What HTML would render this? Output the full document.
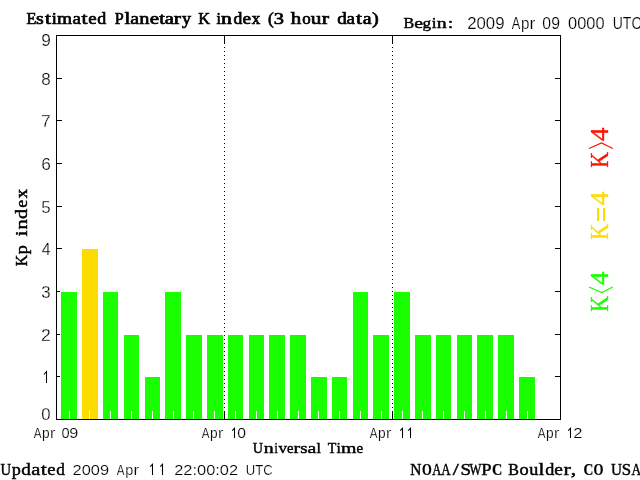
<!DOCTYPE html><html><head><meta charset="utf-8"><style>html,body{margin:0;padding:0;background:#fff;overflow:hidden}svg{display:block;will-change:transform}</style></head><body>
<svg width="640" height="480" viewBox="0 0 640 480">
<rect x="0" y="0" width="640" height="480" fill="#fff"/>
<g shape-rendering="crispEdges">
<rect x="56" y="419" width="6" height="1" fill="#000"/>
<rect x="555" y="419" width="6" height="1" fill="#000"/>
<rect x="56" y="376" width="6" height="1" fill="#000"/>
<rect x="555" y="376" width="6" height="1" fill="#000"/>
<rect x="56" y="334" width="6" height="1" fill="#000"/>
<rect x="555" y="334" width="6" height="1" fill="#000"/>
<rect x="56" y="291" width="6" height="1" fill="#000"/>
<rect x="555" y="291" width="6" height="1" fill="#000"/>
<rect x="56" y="248" width="6" height="1" fill="#000"/>
<rect x="555" y="248" width="6" height="1" fill="#000"/>
<rect x="56" y="206" width="6" height="1" fill="#000"/>
<rect x="555" y="206" width="6" height="1" fill="#000"/>
<rect x="56" y="163" width="6" height="1" fill="#000"/>
<rect x="555" y="163" width="6" height="1" fill="#000"/>
<rect x="56" y="120" width="6" height="1" fill="#000"/>
<rect x="555" y="120" width="6" height="1" fill="#000"/>
<rect x="56" y="78" width="6" height="1" fill="#000"/>
<rect x="555" y="78" width="6" height="1" fill="#000"/>
<rect x="56" y="35" width="6" height="1" fill="#000"/>
<rect x="555" y="35" width="6" height="1" fill="#000"/>
<rect x="224" y="35" width="1" height="9" fill="#000"/>
<rect x="224" y="411" width="1" height="9" fill="#000"/>
<rect x="224" y="47" width="1" height="1" fill="#000"/>
<rect x="224" y="51" width="1" height="1" fill="#000"/>
<rect x="224" y="55" width="1" height="1" fill="#000"/>
<rect x="224" y="59" width="1" height="1" fill="#000"/>
<rect x="224" y="63" width="1" height="1" fill="#000"/>
<rect x="224" y="67" width="1" height="1" fill="#000"/>
<rect x="224" y="71" width="1" height="1" fill="#000"/>
<rect x="224" y="75" width="1" height="1" fill="#000"/>
<rect x="224" y="79" width="1" height="1" fill="#000"/>
<rect x="224" y="83" width="1" height="1" fill="#000"/>
<rect x="224" y="87" width="1" height="1" fill="#000"/>
<rect x="224" y="91" width="1" height="1" fill="#000"/>
<rect x="224" y="95" width="1" height="1" fill="#000"/>
<rect x="224" y="99" width="1" height="1" fill="#000"/>
<rect x="224" y="103" width="1" height="1" fill="#000"/>
<rect x="224" y="107" width="1" height="1" fill="#000"/>
<rect x="224" y="111" width="1" height="1" fill="#000"/>
<rect x="224" y="115" width="1" height="1" fill="#000"/>
<rect x="224" y="119" width="1" height="1" fill="#000"/>
<rect x="224" y="123" width="1" height="1" fill="#000"/>
<rect x="224" y="127" width="1" height="1" fill="#000"/>
<rect x="224" y="131" width="1" height="1" fill="#000"/>
<rect x="224" y="135" width="1" height="1" fill="#000"/>
<rect x="224" y="139" width="1" height="1" fill="#000"/>
<rect x="224" y="143" width="1" height="1" fill="#000"/>
<rect x="224" y="147" width="1" height="1" fill="#000"/>
<rect x="224" y="151" width="1" height="1" fill="#000"/>
<rect x="224" y="155" width="1" height="1" fill="#000"/>
<rect x="224" y="159" width="1" height="1" fill="#000"/>
<rect x="224" y="163" width="1" height="1" fill="#000"/>
<rect x="224" y="167" width="1" height="1" fill="#000"/>
<rect x="224" y="171" width="1" height="1" fill="#000"/>
<rect x="224" y="175" width="1" height="1" fill="#000"/>
<rect x="224" y="179" width="1" height="1" fill="#000"/>
<rect x="224" y="183" width="1" height="1" fill="#000"/>
<rect x="224" y="187" width="1" height="1" fill="#000"/>
<rect x="224" y="191" width="1" height="1" fill="#000"/>
<rect x="224" y="195" width="1" height="1" fill="#000"/>
<rect x="224" y="199" width="1" height="1" fill="#000"/>
<rect x="224" y="203" width="1" height="1" fill="#000"/>
<rect x="224" y="207" width="1" height="1" fill="#000"/>
<rect x="224" y="211" width="1" height="1" fill="#000"/>
<rect x="224" y="215" width="1" height="1" fill="#000"/>
<rect x="224" y="219" width="1" height="1" fill="#000"/>
<rect x="224" y="223" width="1" height="1" fill="#000"/>
<rect x="224" y="227" width="1" height="1" fill="#000"/>
<rect x="224" y="231" width="1" height="1" fill="#000"/>
<rect x="224" y="235" width="1" height="1" fill="#000"/>
<rect x="224" y="239" width="1" height="1" fill="#000"/>
<rect x="224" y="243" width="1" height="1" fill="#000"/>
<rect x="224" y="247" width="1" height="1" fill="#000"/>
<rect x="224" y="251" width="1" height="1" fill="#000"/>
<rect x="224" y="255" width="1" height="1" fill="#000"/>
<rect x="224" y="259" width="1" height="1" fill="#000"/>
<rect x="224" y="263" width="1" height="1" fill="#000"/>
<rect x="224" y="267" width="1" height="1" fill="#000"/>
<rect x="224" y="271" width="1" height="1" fill="#000"/>
<rect x="224" y="275" width="1" height="1" fill="#000"/>
<rect x="224" y="279" width="1" height="1" fill="#000"/>
<rect x="224" y="283" width="1" height="1" fill="#000"/>
<rect x="224" y="287" width="1" height="1" fill="#000"/>
<rect x="224" y="291" width="1" height="1" fill="#000"/>
<rect x="224" y="295" width="1" height="1" fill="#000"/>
<rect x="224" y="299" width="1" height="1" fill="#000"/>
<rect x="224" y="303" width="1" height="1" fill="#000"/>
<rect x="224" y="307" width="1" height="1" fill="#000"/>
<rect x="224" y="311" width="1" height="1" fill="#000"/>
<rect x="224" y="315" width="1" height="1" fill="#000"/>
<rect x="224" y="319" width="1" height="1" fill="#000"/>
<rect x="224" y="323" width="1" height="1" fill="#000"/>
<rect x="224" y="327" width="1" height="1" fill="#000"/>
<rect x="224" y="331" width="1" height="1" fill="#000"/>
<rect x="224" y="335" width="1" height="1" fill="#000"/>
<rect x="224" y="339" width="1" height="1" fill="#000"/>
<rect x="224" y="343" width="1" height="1" fill="#000"/>
<rect x="224" y="347" width="1" height="1" fill="#000"/>
<rect x="224" y="351" width="1" height="1" fill="#000"/>
<rect x="224" y="355" width="1" height="1" fill="#000"/>
<rect x="224" y="359" width="1" height="1" fill="#000"/>
<rect x="224" y="363" width="1" height="1" fill="#000"/>
<rect x="224" y="367" width="1" height="1" fill="#000"/>
<rect x="224" y="371" width="1" height="1" fill="#000"/>
<rect x="224" y="375" width="1" height="1" fill="#000"/>
<rect x="224" y="379" width="1" height="1" fill="#000"/>
<rect x="224" y="383" width="1" height="1" fill="#000"/>
<rect x="224" y="387" width="1" height="1" fill="#000"/>
<rect x="224" y="391" width="1" height="1" fill="#000"/>
<rect x="224" y="395" width="1" height="1" fill="#000"/>
<rect x="224" y="399" width="1" height="1" fill="#000"/>
<rect x="224" y="403" width="1" height="1" fill="#000"/>
<rect x="224" y="407" width="1" height="1" fill="#000"/>
<rect x="392" y="35" width="1" height="9" fill="#000"/>
<rect x="392" y="411" width="1" height="9" fill="#000"/>
<rect x="392" y="47" width="1" height="1" fill="#000"/>
<rect x="392" y="51" width="1" height="1" fill="#000"/>
<rect x="392" y="55" width="1" height="1" fill="#000"/>
<rect x="392" y="59" width="1" height="1" fill="#000"/>
<rect x="392" y="63" width="1" height="1" fill="#000"/>
<rect x="392" y="67" width="1" height="1" fill="#000"/>
<rect x="392" y="71" width="1" height="1" fill="#000"/>
<rect x="392" y="75" width="1" height="1" fill="#000"/>
<rect x="392" y="79" width="1" height="1" fill="#000"/>
<rect x="392" y="83" width="1" height="1" fill="#000"/>
<rect x="392" y="87" width="1" height="1" fill="#000"/>
<rect x="392" y="91" width="1" height="1" fill="#000"/>
<rect x="392" y="95" width="1" height="1" fill="#000"/>
<rect x="392" y="99" width="1" height="1" fill="#000"/>
<rect x="392" y="103" width="1" height="1" fill="#000"/>
<rect x="392" y="107" width="1" height="1" fill="#000"/>
<rect x="392" y="111" width="1" height="1" fill="#000"/>
<rect x="392" y="115" width="1" height="1" fill="#000"/>
<rect x="392" y="119" width="1" height="1" fill="#000"/>
<rect x="392" y="123" width="1" height="1" fill="#000"/>
<rect x="392" y="127" width="1" height="1" fill="#000"/>
<rect x="392" y="131" width="1" height="1" fill="#000"/>
<rect x="392" y="135" width="1" height="1" fill="#000"/>
<rect x="392" y="139" width="1" height="1" fill="#000"/>
<rect x="392" y="143" width="1" height="1" fill="#000"/>
<rect x="392" y="147" width="1" height="1" fill="#000"/>
<rect x="392" y="151" width="1" height="1" fill="#000"/>
<rect x="392" y="155" width="1" height="1" fill="#000"/>
<rect x="392" y="159" width="1" height="1" fill="#000"/>
<rect x="392" y="163" width="1" height="1" fill="#000"/>
<rect x="392" y="167" width="1" height="1" fill="#000"/>
<rect x="392" y="171" width="1" height="1" fill="#000"/>
<rect x="392" y="175" width="1" height="1" fill="#000"/>
<rect x="392" y="179" width="1" height="1" fill="#000"/>
<rect x="392" y="183" width="1" height="1" fill="#000"/>
<rect x="392" y="187" width="1" height="1" fill="#000"/>
<rect x="392" y="191" width="1" height="1" fill="#000"/>
<rect x="392" y="195" width="1" height="1" fill="#000"/>
<rect x="392" y="199" width="1" height="1" fill="#000"/>
<rect x="392" y="203" width="1" height="1" fill="#000"/>
<rect x="392" y="207" width="1" height="1" fill="#000"/>
<rect x="392" y="211" width="1" height="1" fill="#000"/>
<rect x="392" y="215" width="1" height="1" fill="#000"/>
<rect x="392" y="219" width="1" height="1" fill="#000"/>
<rect x="392" y="223" width="1" height="1" fill="#000"/>
<rect x="392" y="227" width="1" height="1" fill="#000"/>
<rect x="392" y="231" width="1" height="1" fill="#000"/>
<rect x="392" y="235" width="1" height="1" fill="#000"/>
<rect x="392" y="239" width="1" height="1" fill="#000"/>
<rect x="392" y="243" width="1" height="1" fill="#000"/>
<rect x="392" y="247" width="1" height="1" fill="#000"/>
<rect x="392" y="251" width="1" height="1" fill="#000"/>
<rect x="392" y="255" width="1" height="1" fill="#000"/>
<rect x="392" y="259" width="1" height="1" fill="#000"/>
<rect x="392" y="263" width="1" height="1" fill="#000"/>
<rect x="392" y="267" width="1" height="1" fill="#000"/>
<rect x="392" y="271" width="1" height="1" fill="#000"/>
<rect x="392" y="275" width="1" height="1" fill="#000"/>
<rect x="392" y="279" width="1" height="1" fill="#000"/>
<rect x="392" y="283" width="1" height="1" fill="#000"/>
<rect x="392" y="287" width="1" height="1" fill="#000"/>
<rect x="392" y="291" width="1" height="1" fill="#000"/>
<rect x="392" y="295" width="1" height="1" fill="#000"/>
<rect x="392" y="299" width="1" height="1" fill="#000"/>
<rect x="392" y="303" width="1" height="1" fill="#000"/>
<rect x="392" y="307" width="1" height="1" fill="#000"/>
<rect x="392" y="311" width="1" height="1" fill="#000"/>
<rect x="392" y="315" width="1" height="1" fill="#000"/>
<rect x="392" y="319" width="1" height="1" fill="#000"/>
<rect x="392" y="323" width="1" height="1" fill="#000"/>
<rect x="392" y="327" width="1" height="1" fill="#000"/>
<rect x="392" y="331" width="1" height="1" fill="#000"/>
<rect x="392" y="335" width="1" height="1" fill="#000"/>
<rect x="392" y="339" width="1" height="1" fill="#000"/>
<rect x="392" y="343" width="1" height="1" fill="#000"/>
<rect x="392" y="347" width="1" height="1" fill="#000"/>
<rect x="392" y="351" width="1" height="1" fill="#000"/>
<rect x="392" y="355" width="1" height="1" fill="#000"/>
<rect x="392" y="359" width="1" height="1" fill="#000"/>
<rect x="392" y="363" width="1" height="1" fill="#000"/>
<rect x="392" y="367" width="1" height="1" fill="#000"/>
<rect x="392" y="371" width="1" height="1" fill="#000"/>
<rect x="392" y="375" width="1" height="1" fill="#000"/>
<rect x="392" y="379" width="1" height="1" fill="#000"/>
<rect x="392" y="383" width="1" height="1" fill="#000"/>
<rect x="392" y="387" width="1" height="1" fill="#000"/>
<rect x="392" y="391" width="1" height="1" fill="#000"/>
<rect x="392" y="395" width="1" height="1" fill="#000"/>
<rect x="392" y="399" width="1" height="1" fill="#000"/>
<rect x="392" y="403" width="1" height="1" fill="#000"/>
<rect x="392" y="407" width="1" height="1" fill="#000"/>
<rect x="60" y="291" width="18" height="128" fill="#fff"/>
<rect x="61" y="292" width="16" height="127" fill="#1aff00"/>
<rect x="69" y="411" width="1" height="8" fill="#fff"/>
<rect x="81" y="248" width="18" height="171" fill="#fff"/>
<rect x="82" y="249" width="16" height="170" fill="#ffdc00"/>
<rect x="89" y="411" width="1" height="8" fill="#fff"/>
<rect x="102" y="291" width="17" height="128" fill="#fff"/>
<rect x="103" y="292" width="15" height="127" fill="#1aff00"/>
<rect x="110" y="411" width="1" height="8" fill="#fff"/>
<rect x="123" y="334" width="17" height="85" fill="#fff"/>
<rect x="124" y="335" width="15" height="84" fill="#1aff00"/>
<rect x="131" y="411" width="1" height="8" fill="#fff"/>
<rect x="144" y="376" width="17" height="43" fill="#fff"/>
<rect x="145" y="377" width="15" height="42" fill="#1aff00"/>
<rect x="152" y="411" width="1" height="8" fill="#fff"/>
<rect x="164" y="291" width="18" height="128" fill="#fff"/>
<rect x="165" y="292" width="16" height="127" fill="#1aff00"/>
<rect x="173" y="411" width="1" height="8" fill="#fff"/>
<rect x="185" y="334" width="18" height="85" fill="#fff"/>
<rect x="186" y="335" width="16" height="84" fill="#1aff00"/>
<rect x="193" y="411" width="1" height="8" fill="#fff"/>
<rect x="206" y="334" width="18" height="85" fill="#fff"/>
<rect x="207" y="335" width="16" height="84" fill="#1aff00"/>
<rect x="214" y="411" width="1" height="8" fill="#fff"/>
<rect x="227" y="334" width="17" height="85" fill="#fff"/>
<rect x="228" y="335" width="15" height="84" fill="#1aff00"/>
<rect x="235" y="411" width="1" height="8" fill="#fff"/>
<rect x="248" y="334" width="17" height="85" fill="#fff"/>
<rect x="249" y="335" width="15" height="84" fill="#1aff00"/>
<rect x="256" y="411" width="1" height="8" fill="#fff"/>
<rect x="268" y="334" width="18" height="85" fill="#fff"/>
<rect x="269" y="335" width="16" height="84" fill="#1aff00"/>
<rect x="277" y="411" width="1" height="8" fill="#fff"/>
<rect x="289" y="334" width="18" height="85" fill="#fff"/>
<rect x="290" y="335" width="16" height="84" fill="#1aff00"/>
<rect x="298" y="411" width="1" height="8" fill="#fff"/>
<rect x="310" y="376" width="18" height="43" fill="#fff"/>
<rect x="311" y="377" width="16" height="42" fill="#1aff00"/>
<rect x="318" y="411" width="1" height="8" fill="#fff"/>
<rect x="331" y="376" width="17" height="43" fill="#fff"/>
<rect x="332" y="377" width="15" height="42" fill="#1aff00"/>
<rect x="339" y="411" width="1" height="8" fill="#fff"/>
<rect x="352" y="291" width="17" height="128" fill="#fff"/>
<rect x="353" y="292" width="15" height="127" fill="#1aff00"/>
<rect x="360" y="411" width="1" height="8" fill="#fff"/>
<rect x="372" y="334" width="18" height="85" fill="#fff"/>
<rect x="373" y="335" width="16" height="84" fill="#1aff00"/>
<rect x="381" y="411" width="1" height="8" fill="#fff"/>
<rect x="393" y="291" width="18" height="128" fill="#fff"/>
<rect x="394" y="292" width="16" height="127" fill="#1aff00"/>
<rect x="402" y="411" width="1" height="8" fill="#fff"/>
<rect x="414" y="334" width="18" height="85" fill="#fff"/>
<rect x="415" y="335" width="16" height="84" fill="#1aff00"/>
<rect x="422" y="411" width="1" height="8" fill="#fff"/>
<rect x="435" y="334" width="17" height="85" fill="#fff"/>
<rect x="436" y="335" width="15" height="84" fill="#1aff00"/>
<rect x="443" y="411" width="1" height="8" fill="#fff"/>
<rect x="456" y="334" width="17" height="85" fill="#fff"/>
<rect x="457" y="335" width="15" height="84" fill="#1aff00"/>
<rect x="464" y="411" width="1" height="8" fill="#fff"/>
<rect x="476" y="334" width="18" height="85" fill="#fff"/>
<rect x="477" y="335" width="16" height="84" fill="#1aff00"/>
<rect x="485" y="411" width="1" height="8" fill="#fff"/>
<rect x="497" y="334" width="18" height="85" fill="#fff"/>
<rect x="498" y="335" width="16" height="84" fill="#1aff00"/>
<rect x="506" y="411" width="1" height="8" fill="#fff"/>
<rect x="518" y="376" width="18" height="43" fill="#fff"/>
<rect x="519" y="377" width="16" height="42" fill="#1aff00"/>
<rect x="527" y="411" width="1" height="8" fill="#fff"/>
<rect x="56" y="35" width="505" height="1" fill="#000"/>
<rect x="56" y="419" width="505" height="1" fill="#000"/>
<rect x="56" y="35" width="1" height="385" fill="#000"/>
<rect x="560" y="35" width="1" height="385" fill="#000"/>
</g>
<text transform="translate(26.51,24.00) scale(0.9662,1)" font-family="Liberation Serif" font-weight="normal" font-size="16.794" letter-spacing="0.000" fill="#000" stroke="#000" stroke-width="0.65">E</text>
<text transform="translate(36.01,24.00) scale(1.1814,1)" font-family="Liberation Serif" font-weight="normal" font-size="16.794" letter-spacing="0.000" fill="#000" stroke="#000" stroke-width="0.65">s</text>
<text transform="translate(45.03,24.00) scale(1.2816,1)" font-family="Liberation Serif" font-weight="normal" font-size="16.794" letter-spacing="0.000" fill="#000" stroke="#000" stroke-width="0.65">t</text>
<text transform="translate(51.73,24.00) scale(1.0917,1)" font-family="Liberation Serif" font-weight="normal" font-size="16.794" letter-spacing="0.000" fill="#000" stroke="#000" stroke-width="0.65">i</text>
<text transform="translate(57.11,24.00) scale(1.1548,1)" font-family="Liberation Serif" font-weight="normal" font-size="16.794" letter-spacing="0.000" fill="#000" stroke="#000" stroke-width="0.65">m</text>
<text transform="translate(72.54,24.00) scale(1.1306,1)" font-family="Liberation Serif" font-weight="normal" font-size="16.794" letter-spacing="0.000" fill="#000" stroke="#000" stroke-width="0.65">a</text>
<text transform="translate(81.52,24.00) scale(1.3000,1)" font-family="Liberation Serif" font-weight="normal" font-size="16.794" letter-spacing="0.000" fill="#000" stroke="#000" stroke-width="0.65">t</text>
<text transform="translate(88.34,24.00) scale(1.1265,1)" font-family="Liberation Serif" font-weight="normal" font-size="16.794" letter-spacing="0.000" fill="#000" stroke="#000" stroke-width="0.65">e</text>
<text transform="translate(97.37,24.00) scale(1.0659,1)" font-family="Liberation Serif" font-weight="normal" font-size="16.794" letter-spacing="0.000" fill="#000" stroke="#000" stroke-width="0.65">d</text>
<text transform="translate(114.72,24.00) scale(0.9576,1)" font-family="Liberation Serif" font-weight="normal" font-size="16.794" letter-spacing="0.000" fill="#000" stroke="#000" stroke-width="0.65">P</text>
<text transform="translate(124.58,24.00) scale(1.2536,1)" font-family="Liberation Serif" font-weight="normal" font-size="16.794" letter-spacing="0.000" fill="#000" stroke="#000" stroke-width="0.65">l</text>
<text transform="translate(130.20,24.00) scale(1.1834,1)" font-family="Liberation Serif" font-weight="normal" font-size="16.794" letter-spacing="0.000" fill="#000" stroke="#000" stroke-width="0.65">a</text>
<text transform="translate(139.24,24.00) scale(1.2102,1)" font-family="Liberation Serif" font-weight="normal" font-size="16.794" letter-spacing="0.000" fill="#000" stroke="#000" stroke-width="0.65">n</text>
<text transform="translate(149.76,24.00) scale(1.2553,1)" font-family="Liberation Serif" font-weight="normal" font-size="16.794" letter-spacing="0.000" fill="#000" stroke="#000" stroke-width="0.65">e</text>
<text transform="translate(159.20,24.00) scale(1.2136,1)" font-family="Liberation Serif" font-weight="normal" font-size="16.794" letter-spacing="0.000" fill="#000" stroke="#000" stroke-width="0.65">t</text>
<text transform="translate(164.68,24.00) scale(1.2211,1)" font-family="Liberation Serif" font-weight="normal" font-size="16.794" letter-spacing="0.000" fill="#000" stroke="#000" stroke-width="0.65">a</text>
<text transform="translate(173.78,24.00) scale(1.3000,1)" font-family="Liberation Serif" font-weight="normal" font-size="16.794" letter-spacing="0.000" fill="#000" stroke="#000" stroke-width="0.65">r</text>
<text transform="translate(182.02,24.00) scale(1.0798,1)" font-family="Liberation Serif" font-weight="normal" font-size="16.794" letter-spacing="0.000" fill="#000" stroke="#000" stroke-width="0.65">y</text>
<text transform="translate(198.31,24.00) scale(0.9772,1)" font-family="Liberation Serif" font-weight="normal" font-size="16.794" letter-spacing="0.000" fill="#000" stroke="#000" stroke-width="0.65">K</text>
<text transform="translate(216.58,24.00) scale(0.9428,1)" font-family="Liberation Serif" font-weight="normal" font-size="16.794" letter-spacing="0.000" fill="#000" stroke="#000" stroke-width="0.65">i</text>
<text transform="translate(220.91,24.00) scale(1.3000,1)" font-family="Liberation Serif" font-weight="normal" font-size="16.794" letter-spacing="0.000" fill="#000" stroke="#000" stroke-width="0.65">n</text>
<text transform="translate(233.38,24.00) scale(1.0527,1)" font-family="Liberation Serif" font-weight="normal" font-size="16.794" letter-spacing="0.000" fill="#000" stroke="#000" stroke-width="0.65">d</text>
<text transform="translate(242.48,24.00) scale(1.1507,1)" font-family="Liberation Serif" font-weight="normal" font-size="16.794" letter-spacing="0.000" fill="#000" stroke="#000" stroke-width="0.65">e</text>
<text transform="translate(251.83,24.00) scale(1.0101,1)" font-family="Liberation Serif" font-weight="normal" font-size="16.794" letter-spacing="0.000" fill="#000" stroke="#000" stroke-width="0.65">x</text>
<text transform="translate(268.02,24.00) scale(1.0275,1)" font-family="Liberation Serif" font-weight="normal" font-size="16.794" letter-spacing="0.000" fill="#000" stroke="#000" stroke-width="0.65">(</text>
<text transform="translate(273.78,24.00) scale(1.2198,1)" font-family="Liberation Serif" font-weight="normal" font-size="16.794" letter-spacing="0.000" fill="#000" stroke="#000" stroke-width="0.65">3</text>
<text transform="translate(290.79,24.00) scale(1.2470,1)" font-family="Liberation Serif" font-weight="normal" font-size="16.794" letter-spacing="0.000" fill="#000" stroke="#000" stroke-width="0.65">h</text>
<text transform="translate(302.16,24.00) scale(1.0088,1)" font-family="Liberation Serif" font-weight="normal" font-size="16.794" letter-spacing="0.000" fill="#000" stroke="#000" stroke-width="0.65">o</text>
<text transform="translate(310.63,24.00) scale(1.2669,1)" font-family="Liberation Serif" font-weight="normal" font-size="16.794" letter-spacing="0.000" fill="#000" stroke="#000" stroke-width="0.65">u</text>
<text transform="translate(321.68,24.00) scale(1.3000,1)" font-family="Liberation Serif" font-weight="normal" font-size="16.794" letter-spacing="0.000" fill="#000" stroke="#000" stroke-width="0.65">r</text>
<text transform="translate(337.23,24.00) scale(1.1317,1)" font-family="Liberation Serif" font-weight="normal" font-size="16.794" letter-spacing="0.000" fill="#000" stroke="#000" stroke-width="0.65">d</text>
<text transform="translate(346.59,24.00) scale(1.1306,1)" font-family="Liberation Serif" font-weight="normal" font-size="16.794" letter-spacing="0.000" fill="#000" stroke="#000" stroke-width="0.65">a</text>
<text transform="translate(355.99,24.00) scale(1.3000,1)" font-family="Liberation Serif" font-weight="normal" font-size="16.794" letter-spacing="0.000" fill="#000" stroke="#000" stroke-width="0.65">t</text>
<text transform="translate(362.70,24.00) scale(1.1834,1)" font-family="Liberation Serif" font-weight="normal" font-size="16.794" letter-spacing="0.000" fill="#000" stroke="#000" stroke-width="0.65">a</text>
<text transform="translate(372.09,24.00) scale(1.2140,1)" font-family="Liberation Serif" font-weight="normal" font-size="16.794" letter-spacing="0.000" fill="#000" stroke="#000" stroke-width="0.65">)</text>
<text transform="translate(403.52,28.00) scale(1.0480,1)" font-family="Liberation Serif" font-weight="normal" font-size="15.267" letter-spacing="0.000" fill="#000" stroke="#000" stroke-width="0.45">B</text>
<text transform="translate(414.21,28.00) scale(1.2923,1)" font-family="Liberation Serif" font-weight="normal" font-size="15.267" letter-spacing="0.000" fill="#000" stroke="#000" stroke-width="0.45">e</text>
<text transform="translate(422.57,28.00) scale(1.1229,1)" font-family="Liberation Serif" font-weight="normal" font-size="15.267" letter-spacing="0.000" fill="#000" stroke="#000" stroke-width="0.45">g</text>
<text transform="translate(431.66,28.00) scale(1.1190,1)" font-family="Liberation Serif" font-weight="normal" font-size="15.267" letter-spacing="0.000" fill="#000" stroke="#000" stroke-width="0.45">i</text>
<text transform="translate(436.76,28.00) scale(1.3000,1)" font-family="Liberation Serif" font-weight="normal" font-size="15.267" letter-spacing="0.000" fill="#000" stroke="#000" stroke-width="0.45">n</text>
<text transform="translate(447.80,28.00) scale(1.3000,1)" font-family="Liberation Serif" font-weight="normal" font-size="15.267" letter-spacing="0.000" fill="#000" stroke="#000" stroke-width="0.45">:</text>
<text transform="translate(511.67,29.00) scale(0.8000,1)" font-family="Liberation Sans" font-weight="normal" font-size="16.000" letter-spacing="0.000" fill="#000" stroke="#fff" stroke-width="0.2">A</text>
<text transform="translate(520.88,29.00) scale(0.9431,1)" font-family="Liberation Sans" font-weight="normal" font-size="16.000" letter-spacing="0.000" fill="#000" stroke="#fff" stroke-width="0.2">p</text>
<text transform="translate(529.44,29.00) scale(1.0952,1)" font-family="Liberation Sans" font-weight="normal" font-size="16.000" letter-spacing="0.000" fill="#000" stroke="#fff" stroke-width="0.2">r</text>
<text transform="translate(467.16,29.00) scale(1.0655,1)" font-family="Liberation Sans" font-weight="normal" font-size="15.771" letter-spacing="0.000" fill="#000" stroke="#fff" stroke-width="0.2">2009</text>
<text transform="translate(542.37,29.00) scale(1.0022,1)" font-family="Liberation Sans" font-weight="normal" font-size="15.771" letter-spacing="0.000" fill="#000" stroke="#fff" stroke-width="0.2">09</text>
<text transform="translate(568.04,29.00) scale(1.0406,1)" font-family="Liberation Sans" font-weight="normal" font-size="15.771" letter-spacing="0.000" fill="#000" stroke="#fff" stroke-width="0.2">0000</text>
<text transform="translate(612.71,29.00) scale(0.8902,1)" font-family="Liberation Sans" font-weight="normal" font-size="15.771" letter-spacing="0.000" fill="#000" stroke="#fff" stroke-width="0.2">UTC</text>
<text transform="translate(41.33,420.00) scale(0.9738,1)" font-family="Liberation Sans" font-weight="normal" font-size="17.204" letter-spacing="0.000" fill="#000" stroke="#fff" stroke-width="0.25">0</text>
<polyline points="43.8,374.5 46.5,371.6 46.5,383" fill="none" stroke="#000" stroke-width="1.05"/>
<text transform="translate(41.12,341.00) scale(1.0220,1)" font-family="Liberation Sans" font-weight="normal" font-size="17.204" letter-spacing="0.000" fill="#000" stroke="#fff" stroke-width="0.25">2</text>
<text transform="translate(41.37,298.00) scale(0.9789,1)" font-family="Liberation Sans" font-weight="normal" font-size="17.204" letter-spacing="0.000" fill="#000" stroke="#fff" stroke-width="0.25">3</text>
<text transform="translate(41.64,255.00) scale(0.9208,1)" font-family="Liberation Sans" font-weight="normal" font-size="17.204" letter-spacing="0.000" fill="#000" stroke="#fff" stroke-width="0.25">4</text>
<text transform="translate(41.33,213.00) scale(0.9789,1)" font-family="Liberation Sans" font-weight="normal" font-size="17.204" letter-spacing="0.000" fill="#000" stroke="#fff" stroke-width="0.25">5</text>
<text transform="translate(41.14,170.00) scale(1.0054,1)" font-family="Liberation Sans" font-weight="normal" font-size="17.204" letter-spacing="0.000" fill="#000" stroke="#fff" stroke-width="0.25">6</text>
<text transform="translate(41.07,127.00) scale(1.0276,1)" font-family="Liberation Sans" font-weight="normal" font-size="17.204" letter-spacing="0.000" fill="#000" stroke="#fff" stroke-width="0.25">7</text>
<text transform="translate(41.28,85.00) scale(0.9894,1)" font-family="Liberation Sans" font-weight="normal" font-size="17.204" letter-spacing="0.000" fill="#000" stroke="#fff" stroke-width="0.25">8</text>
<text transform="translate(41.18,46.00) scale(1.0054,1)" font-family="Liberation Sans" font-weight="normal" font-size="17.204" letter-spacing="0.000" fill="#000" stroke="#fff" stroke-width="0.25">9</text>
<text transform="translate(33.72,438.00) scale(0.8000,1)" font-family="Liberation Sans" font-weight="normal" font-size="14.545" letter-spacing="0.000" fill="#000" stroke="#fff" stroke-width="0.2">A</text>
<text transform="translate(42.10,438.00) scale(0.9472,1)" font-family="Liberation Sans" font-weight="normal" font-size="14.545" letter-spacing="0.000" fill="#000" stroke="#fff" stroke-width="0.2">p</text>
<text transform="translate(49.92,438.00) scale(1.1000,1)" font-family="Liberation Sans" font-weight="normal" font-size="14.545" letter-spacing="0.000" fill="#000" stroke="#fff" stroke-width="0.2">r</text>
<text transform="translate(61.41,438.00) scale(1.0225,1)" font-family="Liberation Sans" font-weight="normal" font-size="14.337" letter-spacing="0.000" fill="#000" stroke="#fff" stroke-width="0.2">0</text>
<text transform="translate(69.23,438.00) scale(1.1311,1)" font-family="Liberation Sans" font-weight="normal" font-size="14.337" letter-spacing="0.000" fill="#000" stroke="#fff" stroke-width="0.2">9</text>
<text transform="translate(201.72,438.00) scale(0.8000,1)" font-family="Liberation Sans" font-weight="normal" font-size="14.545" letter-spacing="0.000" fill="#000" stroke="#fff" stroke-width="0.2">A</text>
<text transform="translate(210.10,438.00) scale(0.9472,1)" font-family="Liberation Sans" font-weight="normal" font-size="14.545" letter-spacing="0.000" fill="#000" stroke="#fff" stroke-width="0.2">p</text>
<text transform="translate(217.92,438.00) scale(1.1000,1)" font-family="Liberation Sans" font-weight="normal" font-size="14.545" letter-spacing="0.000" fill="#000" stroke="#fff" stroke-width="0.2">r</text>
<polyline points="232.20,430.60 234.50,428.30 234.50,438.00" fill="none" stroke="#000" stroke-width="1.05"/>
<text transform="translate(237.37,438.00) scale(1.0955,1)" font-family="Liberation Sans" font-weight="normal" font-size="14.337" letter-spacing="0.000" fill="#000" stroke="#fff" stroke-width="0.2">0</text>
<text transform="translate(369.72,438.00) scale(0.8000,1)" font-family="Liberation Sans" font-weight="normal" font-size="14.545" letter-spacing="0.000" fill="#000" stroke="#fff" stroke-width="0.2">A</text>
<text transform="translate(378.10,438.00) scale(0.9472,1)" font-family="Liberation Sans" font-weight="normal" font-size="14.545" letter-spacing="0.000" fill="#000" stroke="#fff" stroke-width="0.2">p</text>
<text transform="translate(385.92,438.00) scale(1.1000,1)" font-family="Liberation Sans" font-weight="normal" font-size="14.545" letter-spacing="0.000" fill="#000" stroke="#fff" stroke-width="0.2">r</text>
<polyline points="400.20,430.60 402.50,428.30 402.50,438.00" fill="none" stroke="#000" stroke-width="1.05"/>
<polyline points="408.20,430.60 410.50,428.30 410.50,438.00" fill="none" stroke="#000" stroke-width="1.05"/>
<text transform="translate(537.72,438.00) scale(0.8000,1)" font-family="Liberation Sans" font-weight="normal" font-size="14.545" letter-spacing="0.000" fill="#000" stroke="#fff" stroke-width="0.2">A</text>
<text transform="translate(546.10,438.00) scale(0.9472,1)" font-family="Liberation Sans" font-weight="normal" font-size="14.545" letter-spacing="0.000" fill="#000" stroke="#fff" stroke-width="0.2">p</text>
<text transform="translate(553.92,438.00) scale(1.1000,1)" font-family="Liberation Sans" font-weight="normal" font-size="14.545" letter-spacing="0.000" fill="#000" stroke="#fff" stroke-width="0.2">r</text>
<polyline points="568.20,430.60 570.50,428.30 570.50,438.00" fill="none" stroke="#000" stroke-width="1.05"/>
<text transform="translate(573.18,438.00) scale(1.1497,1)" font-family="Liberation Sans" font-weight="normal" font-size="14.337" letter-spacing="0.000" fill="#000" stroke="#fff" stroke-width="0.2">2</text>
<text transform="translate(252.81,453.00) scale(0.9343,1)" font-family="Liberation Serif" font-weight="normal" font-size="15.267" letter-spacing="0.000" fill="#000" stroke="#000" stroke-width="0.45">U</text>
<text transform="translate(263.71,453.00) scale(1.3000,1)" font-family="Liberation Serif" font-weight="normal" font-size="15.267" letter-spacing="0.000" fill="#000" stroke="#000" stroke-width="0.45">n</text>
<text transform="translate(274.47,453.00) scale(0.7642,1)" font-family="Liberation Serif" font-weight="normal" font-size="15.267" letter-spacing="0.000" fill="#000" stroke="#000" stroke-width="0.45">i</text>
<text transform="translate(278.40,453.00) scale(1.1135,1)" font-family="Liberation Serif" font-weight="normal" font-size="15.267" letter-spacing="0.000" fill="#000" stroke="#000" stroke-width="0.45">v</text>
<text transform="translate(286.92,453.00) scale(0.9559,1)" font-family="Liberation Serif" font-weight="normal" font-size="15.267" letter-spacing="0.000" fill="#000" stroke="#000" stroke-width="0.45">e</text>
<text transform="translate(293.48,453.00) scale(1.3000,1)" font-family="Liberation Serif" font-weight="normal" font-size="15.267" letter-spacing="0.000" fill="#000" stroke="#000" stroke-width="0.45">r</text>
<text transform="translate(300.24,453.00) scale(1.2366,1)" font-family="Liberation Serif" font-weight="normal" font-size="15.267" letter-spacing="0.000" fill="#000" stroke="#000" stroke-width="0.45">s</text>
<text transform="translate(307.51,453.00) scale(1.2934,1)" font-family="Liberation Serif" font-weight="normal" font-size="15.267" letter-spacing="0.000" fill="#000" stroke="#000" stroke-width="0.45">a</text>
<text transform="translate(316.58,453.00) scale(1.0480,1)" font-family="Liberation Serif" font-weight="normal" font-size="15.267" letter-spacing="0.000" fill="#000" stroke="#000" stroke-width="0.45">l</text>
<text transform="translate(327.85,453.00) scale(0.9187,1)" font-family="Liberation Serif" font-weight="normal" font-size="15.267" letter-spacing="0.000" fill="#000" stroke="#000" stroke-width="0.45">T</text>
<text transform="translate(336.48,453.00) scale(1.0371,1)" font-family="Liberation Serif" font-weight="normal" font-size="15.267" letter-spacing="0.000" fill="#000" stroke="#000" stroke-width="0.45">i</text>
<text transform="translate(341.08,453.00) scale(1.3000,1)" font-family="Liberation Serif" font-weight="normal" font-size="15.267" letter-spacing="0.000" fill="#000" stroke="#000" stroke-width="0.45">m</text>
<text transform="translate(356.51,453.00) scale(0.9736,1)" font-family="Liberation Serif" font-weight="normal" font-size="15.267" letter-spacing="0.000" fill="#000" stroke="#000" stroke-width="0.45">e</text>
<text transform="translate(0.61,475.00) scale(0.8757,1)" font-family="Liberation Serif" font-weight="normal" font-size="16.794" letter-spacing="0.000" fill="#000" stroke="#000" stroke-width="0.45">U</text>
<text transform="translate(11.63,475.00) scale(1.0839,1)" font-family="Liberation Serif" font-weight="normal" font-size="16.794" letter-spacing="0.000" fill="#000" stroke="#000" stroke-width="0.45">p</text>
<text transform="translate(21.23,475.00) scale(1.1449,1)" font-family="Liberation Serif" font-weight="normal" font-size="16.794" letter-spacing="0.000" fill="#000" stroke="#000" stroke-width="0.45">d</text>
<text transform="translate(31.18,475.00) scale(1.2211,1)" font-family="Liberation Serif" font-weight="normal" font-size="16.794" letter-spacing="0.000" fill="#000" stroke="#000" stroke-width="0.45">a</text>
<text transform="translate(40.82,475.00) scale(1.3000,1)" font-family="Liberation Serif" font-weight="normal" font-size="16.794" letter-spacing="0.000" fill="#000" stroke="#000" stroke-width="0.45">t</text>
<text transform="translate(47.35,475.00) scale(1.1104,1)" font-family="Liberation Serif" font-weight="normal" font-size="16.794" letter-spacing="0.000" fill="#000" stroke="#000" stroke-width="0.45">e</text>
<text transform="translate(56.30,475.00) scale(1.0264,1)" font-family="Liberation Serif" font-weight="normal" font-size="16.794" letter-spacing="0.000" fill="#000" stroke="#000" stroke-width="0.45">d</text>
<text transform="translate(116.76,475.00) scale(0.8000,1)" font-family="Liberation Sans" font-weight="normal" font-size="14.545" letter-spacing="0.000" fill="#000" stroke="#fff" stroke-width="0.2">A</text>
<text transform="translate(125.33,475.00) scale(0.9856,1)" font-family="Liberation Sans" font-weight="normal" font-size="14.545" letter-spacing="0.000" fill="#000" stroke="#fff" stroke-width="0.2">p</text>
<text transform="translate(133.46,475.00) scale(1.1445,1)" font-family="Liberation Sans" font-weight="normal" font-size="14.545" letter-spacing="0.000" fill="#000" stroke="#fff" stroke-width="0.2">r</text>
<text transform="translate(72.58,475.00) scale(1.1442,1)" font-family="Liberation Sans" font-weight="normal" font-size="14.337" letter-spacing="0.000" fill="#000" stroke="#fff" stroke-width="0.2">2009</text>
<text transform="translate(174.18,475.00) scale(1.1458,1)" font-family="Liberation Sans" font-weight="normal" font-size="14.337" letter-spacing="0.000" fill="#000" stroke="#fff" stroke-width="0.2">22:00:02</text>
<text transform="translate(245.68,475.00) scale(0.9180,1)" font-family="Liberation Sans" font-weight="normal" font-size="14.337" letter-spacing="0.000" fill="#000" stroke="#fff" stroke-width="0.2">UTC</text>
<polyline points="150.20,466.60 152.50,464.30 152.50,475.00" fill="none" stroke="#000" stroke-width="1.05"/>
<polyline points="160.20,466.60 162.50,464.30 162.50,475.00" fill="none" stroke="#000" stroke-width="1.05"/>
<text transform="translate(410.34,475.00) scale(0.9154,1)" font-family="Liberation Serif" font-weight="normal" font-size="16.794" letter-spacing="0.000" fill="#000" stroke="#000" stroke-width="0.45">N</text>
<text transform="translate(421.99,475.00) scale(0.7500,1)" font-family="Liberation Serif" font-weight="bold" font-size="16.794" letter-spacing="0.000" fill="#000" stroke="#000" stroke-width="0.2">O</text>
<text transform="translate(432.18,475.00) scale(0.7500,1)" font-family="Liberation Serif" font-weight="normal" font-size="16.794" letter-spacing="0.000" fill="#000" stroke="#000" stroke-width="0.45">A</text>
<text transform="translate(441.37,475.00) scale(0.7686,1)" font-family="Liberation Serif" font-weight="normal" font-size="16.794" letter-spacing="0.000" fill="#000" stroke="#000" stroke-width="0.45">A</text>
<text transform="translate(452.87,475.00) scale(1.3000,1)" font-family="Liberation Serif" font-weight="normal" font-size="16.794" letter-spacing="0.000" fill="#000" stroke="#000" stroke-width="0.45">/</text>
<text transform="translate(460.62,475.00) scale(1.1282,1)" font-family="Liberation Serif" font-weight="normal" font-size="16.794" letter-spacing="0.000" fill="#000" stroke="#000" stroke-width="0.45">S</text>
<text transform="translate(469.51,475.00) scale(0.7500,1)" font-family="Liberation Serif" font-weight="normal" font-size="16.794" letter-spacing="0.000" fill="#000" stroke="#000" stroke-width="0.45">W</text>
<text transform="translate(481.34,475.00) scale(1.1050,1)" font-family="Liberation Serif" font-weight="normal" font-size="16.794" letter-spacing="0.000" fill="#000" stroke="#000" stroke-width="0.45">P</text>
<text transform="translate(492.09,475.00) scale(0.8506,1)" font-family="Liberation Serif" font-weight="bold" font-size="16.794" letter-spacing="0.000" fill="#000" stroke="#000" stroke-width="0.2">C</text>
<text transform="translate(508.32,475.00) scale(0.9527,1)" font-family="Liberation Serif" font-weight="normal" font-size="16.794" letter-spacing="0.000" fill="#000" stroke="#000" stroke-width="0.45">B</text>
<text transform="translate(519.41,475.00) scale(1.0928,1)" font-family="Liberation Serif" font-weight="normal" font-size="16.794" letter-spacing="0.000" fill="#000" stroke="#000" stroke-width="0.45">o</text>
<text transform="translate(529.17,475.00) scale(1.0769,1)" font-family="Liberation Serif" font-weight="normal" font-size="16.794" letter-spacing="0.000" fill="#000" stroke="#000" stroke-width="0.45">u</text>
<text transform="translate(538.38,475.00) scale(1.2536,1)" font-family="Liberation Serif" font-weight="normal" font-size="16.794" letter-spacing="0.000" fill="#000" stroke="#000" stroke-width="0.45">l</text>
<text transform="translate(545.27,475.00) scale(1.0791,1)" font-family="Liberation Serif" font-weight="normal" font-size="16.794" letter-spacing="0.000" fill="#000" stroke="#000" stroke-width="0.45">d</text>
<text transform="translate(554.22,475.00) scale(1.1587,1)" font-family="Liberation Serif" font-weight="normal" font-size="16.794" letter-spacing="0.000" fill="#000" stroke="#000" stroke-width="0.45">e</text>
<text transform="translate(563.38,475.00) scale(1.3000,1)" font-family="Liberation Serif" font-weight="normal" font-size="16.794" letter-spacing="0.000" fill="#000" stroke="#000" stroke-width="0.45">r</text>
<text transform="translate(570.84,475.00) scale(1.3000,1)" font-family="Liberation Serif" font-weight="normal" font-size="16.794" letter-spacing="0.000" fill="#000" stroke="#000" stroke-width="0.45">,</text>
<text transform="translate(583.42,475.00) scale(0.8106,1)" font-family="Liberation Serif" font-weight="bold" font-size="16.794" letter-spacing="0.000" fill="#000" stroke="#000" stroke-width="0.2">C</text>
<text transform="translate(593.46,475.00) scale(0.7618,1)" font-family="Liberation Serif" font-weight="bold" font-size="16.794" letter-spacing="0.000" fill="#000" stroke="#000" stroke-width="0.2">O</text>
<text transform="translate(610.95,475.00) scale(0.9063,1)" font-family="Liberation Serif" font-weight="normal" font-size="16.794" letter-spacing="0.000" fill="#000" stroke="#000" stroke-width="0.45">U</text>
<text transform="translate(621.66,475.00) scale(1.0029,1)" font-family="Liberation Serif" font-weight="normal" font-size="16.794" letter-spacing="0.000" fill="#000" stroke="#000" stroke-width="0.45">S</text>
<text transform="translate(631.47,475.00) scale(0.7939,1)" font-family="Liberation Serif" font-weight="normal" font-size="16.794" letter-spacing="0.000" fill="#000" stroke="#000" stroke-width="0.45">A</text>
<text transform="translate(27.30,266.27) rotate(-90) scale(0.9172,1)" font-family="Liberation Serif" font-weight="normal" font-size="17.252" letter-spacing="0.000" fill="#000" stroke="#000" stroke-width="0.45">K</text>
<text transform="translate(27.30,254.17) rotate(-90) scale(1.0551,1)" font-family="Liberation Serif" font-weight="normal" font-size="17.252" letter-spacing="0.000" fill="#000" stroke="#000" stroke-width="0.45">p</text>
<text transform="translate(27.30,236.44) rotate(-90) scale(1.3000,1)" font-family="Liberation Serif" font-weight="normal" font-size="17.252" letter-spacing="0.000" fill="#000" stroke="#000" stroke-width="0.45">i</text>
<text transform="translate(27.30,229.46) rotate(-90) scale(1.1906,1)" font-family="Liberation Serif" font-weight="normal" font-size="17.252" letter-spacing="0.000" fill="#000" stroke="#000" stroke-width="0.45">n</text>
<text transform="translate(27.30,219.11) rotate(-90) scale(1.1785,1)" font-family="Liberation Serif" font-weight="normal" font-size="17.252" letter-spacing="0.000" fill="#000" stroke="#000" stroke-width="0.45">d</text>
<text transform="translate(27.30,207.71) rotate(-90) scale(1.0340,1)" font-family="Liberation Serif" font-weight="normal" font-size="17.252" letter-spacing="0.000" fill="#000" stroke="#000" stroke-width="0.45">e</text>
<text transform="translate(27.30,198.44) rotate(-90) scale(1.1107,1)" font-family="Liberation Serif" font-weight="normal" font-size="17.252" letter-spacing="0.000" fill="#000" stroke="#000" stroke-width="0.45">x</text>
<text transform="translate(608.00,167.66) rotate(-90) scale(0.8997,1)" font-family="Liberation Serif" font-weight="normal" font-size="24.427" letter-spacing="0.000" fill="#ff1400" stroke="#ff1400" stroke-width="0.35">K</text>
<text transform="translate(608.00,141.04) rotate(-90) scale(1.1005,1)" font-family="Liberation Serif" font-weight="normal" font-size="24.427" letter-spacing="0.000" fill="#ff1400" stroke="#ff1400" stroke-width="0.35">4</text>
<polyline points="589,148.5 601.5,143 612.8,148.5" fill="none" stroke="#ff1400" stroke-width="1.2"/>
<text transform="translate(608.00,311.66) rotate(-90) scale(0.8997,1)" font-family="Liberation Serif" font-weight="normal" font-size="24.427" letter-spacing="0.000" fill="#1aff00" stroke="#1aff00" stroke-width="0.35">K</text>
<text transform="translate(608.00,285.04) rotate(-90) scale(1.1005,1)" font-family="Liberation Serif" font-weight="normal" font-size="24.427" letter-spacing="0.000" fill="#1aff00" stroke="#1aff00" stroke-width="0.35">4</text>
<polyline points="589,287 601.5,292.5 612.8,287" fill="none" stroke="#1aff00" stroke-width="1.2"/>
<text transform="translate(608.00,239.76) rotate(-90) scale(0.9057,1)" font-family="Liberation Serif" font-weight="normal" font-size="24.427" letter-spacing="0.000" fill="#ffdc00" stroke="#ffdc00" stroke-width="0.35">K</text>
<text transform="translate(608.00,205.25) rotate(-90) scale(1.1181,1)" font-family="Liberation Serif" font-weight="normal" font-size="24.427" letter-spacing="0.000" fill="#ffdc00" stroke="#ffdc00" stroke-width="0.35">4</text>
<rect x="597" y="208" width="2" height="13" fill="#ffdc00"/>
<rect x="603" y="208" width="2" height="13" fill="#ffdc00"/>
</svg></body></html>
